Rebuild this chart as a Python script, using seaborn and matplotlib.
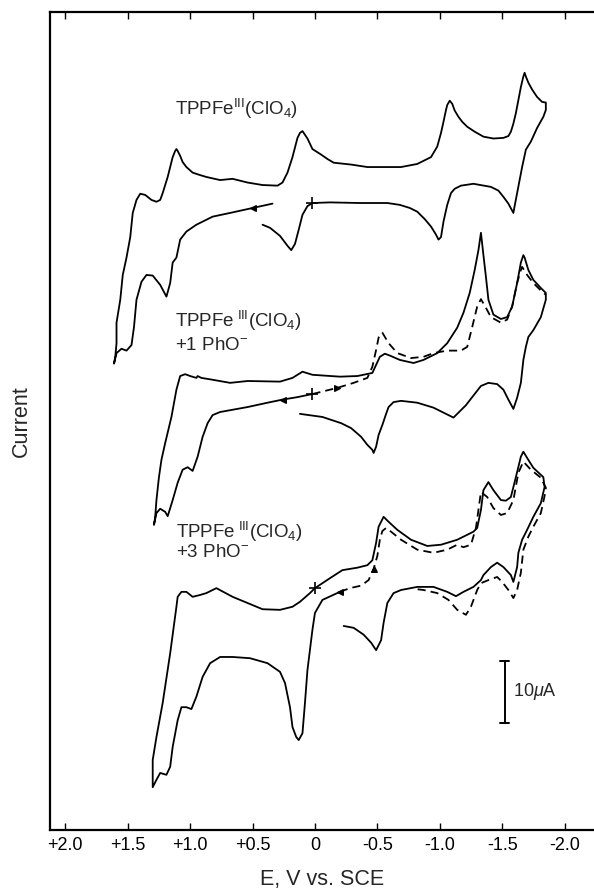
import matplotlib
matplotlib.use("Agg")
import matplotlib.pyplot as plt
import pandas as pd
import seaborn as sns

# ---------------- data (E in V vs. SCE, current in uA incl. vertical offset) ----------------
# TPPFe(III)(ClO4) - solid
top_E = [0.42, 0.36, 0.28, 0.22, 0.19, 0.16, 0.13, 0.10, 0.06, 0.02,
         -0.12, -0.36, -0.58, -0.68, -0.76, -0.82, -0.88, -0.93, -0.97, -0.99,
         -1.01, -1.03, -1.06, -1.09, -1.12, -1.17, -1.27, -1.41, -1.47, -1.51,
         -1.55, -1.59, -1.60, -1.62, -1.66, -1.69, -1.73, -1.78, -1.83, -1.85,
         -1.85, -1.82, -1.78, -1.74, -1.71, -1.69, -1.68, -1.67, -1.65, -1.63,
         -1.61, -1.59, -1.57, -1.55, -1.51, -1.43, -1.35, -1.28, -1.22, -1.18,
         -1.15, -1.12, -1.10, -1.08, -1.06, -1.05, -1.03, -1.01, -0.98, -0.93,
         -0.87, -0.82, -0.69, -0.42, -0.29, -0.15, -0.10, -0.05, 0.02, 0.06,
         0.09, 0.10, 0.12, 0.14, 0.18, 0.22, 0.26, 0.30, 0.42, 0.54,
         0.66, 0.76, 0.87, 0.92, 0.98, 1.03, 1.06, 1.08, 1.10, 1.11,
         1.12, 1.14, 1.18, 1.22, 1.24, 1.27, 1.31, 1.36, 1.40, 1.43,
         1.46, 1.48, 1.51, 1.54, 1.56, 1.59, 1.59, 1.60, 1.61, 1.59,
         1.55, 1.51, 1.47, 1.45, 1.43, 1.39, 1.35, 1.30, 1.24, 1.19,
         1.16, 1.14, 1.11, 1.08, 1.03, 0.95, 0.82, 0.68, 0.50, 0.34]
top_I = [97.6, 97.1, 95.8, 94.2, 93.5, 94.5, 96.8, 99.2, 100.6, 101.1,
         101.2, 101.1, 101.1, 100.8, 100.3, 99.7, 98.5, 97.3, 96.0, 95.2,
         95.6, 98.1, 100.8, 102.7, 103.4, 103.9, 104.2, 103.7, 103.1, 102.1,
         101.0, 99.5, 100.6, 102.7, 106.9, 109.7, 111.0, 113.2, 115.0, 116.1,
         117.3, 117.4, 118.2, 119.4, 120.5, 121.5, 122.1, 121.5, 119.8, 117.7,
         115.6, 113.9, 112.6, 111.9, 111.6, 111.5, 111.8, 112.6, 113.4, 114.2,
         115.0, 116.0, 117.1, 117.6, 116.9, 116.1, 114.2, 112.4, 110.2, 108.5,
         107.9, 107.4, 106.9, 106.9, 107.3, 107.6, 108.2, 108.9, 109.8, 111.5,
         112.4, 112.7, 112.4, 111.6, 108.5, 106.0, 104.4, 103.9, 104.0, 104.4,
         105.0, 104.8, 105.3, 105.6, 106.0, 106.9, 107.7, 108.7, 109.5, 109.8,
         109.5, 108.5, 105.3, 102.7, 101.6, 101.3, 101.6, 102.4, 102.6, 101.6,
         99.5, 95.6, 92.3, 89.5, 85.5, 81.8, 78.5, 76.3, 75.2, 76.9,
         77.6, 77.3, 78.2, 81.1, 85.5, 88.4, 89.5, 89.4, 87.9, 86.0,
         88.2, 91.5, 92.3, 95.2, 96.5, 97.6, 98.9, 99.5, 100.3, 101.0]

# + 1 PhO- : solid
mid_E = [0.12, -0.06, -0.21, -0.29, -0.37, -0.42, -0.46, -0.47, -0.49, -0.51,
         -0.54, -0.57, -0.59, -0.63, -0.69, -0.82, -0.95, -1.03, -1.11, -1.15,
         -1.21, -1.26, -1.33, -1.39, -1.46, -1.51, -1.55, -1.59, -1.62, -1.65,
         -1.67, -1.69, -1.71, -1.75, -1.81, -1.85, -1.85, -1.81, -1.75, -1.71,
         -1.68, -1.67, -1.65, -1.62, -1.58, -1.54, -1.49, -1.43, -1.39, -1.37,
         -1.35, -1.34, -1.33, -1.31, -1.28, -1.24, -1.19, -1.14, -1.06, -0.98,
         -0.87, -0.79, -0.68, -0.60, -0.56, -0.52, -0.49, -0.46, -0.34, -0.20,
         0.02, 0.10, 0.18, 0.28, 0.54, 0.68, 0.82, 0.91, 0.94, 0.95,
         1.00, 1.04, 1.08, 1.11, 1.15, 1.20, 1.23, 1.25, 1.27, 1.28,
         1.29, 1.27, 1.24, 1.20, 1.18, 1.14, 1.10, 1.06, 1.02, 0.98,
         0.94, 0.90, 0.86, 0.82, 0.76, 0.54, 0.38, 0.26, 0.14, 0.02]
mid_I = [67.1, 66.6, 65.6, 64.8, 63.4, 62.1, 61.3, 60.8, 61.8, 63.7,
         65.3, 67.1, 68.2, 69.0, 69.2, 68.9, 68.1, 67.3, 66.5, 67.3,
         68.5, 69.8, 71.6, 72.1, 71.9, 71.0, 69.4, 67.9, 69.7, 72.1,
         75.8, 77.9, 79.5, 80.6, 82.7, 85.5, 86.6, 87.4, 88.7, 90.3,
         92.3, 92.7, 91.5, 88.2, 84.4, 82.7, 82.4, 83.1, 85.5, 89.2,
         92.7, 94.5, 96.3, 93.5, 90.3, 86.6, 83.4, 81.0, 78.5, 76.9,
         75.8, 75.3, 75.8, 76.5, 76.8, 76.3, 75.0, 73.7, 73.2, 73.1,
         73.4, 73.9, 72.9, 72.3, 72.4, 72.1, 72.6, 72.9, 73.2, 72.9,
         73.2, 73.5, 73.2, 71.0, 66.6, 62.4, 59.7, 56.9, 53.2, 50.5,
         49.2, 51.1, 51.8, 51.3, 50.6, 53.2, 56.0, 58.1, 58.5, 57.9,
         60.2, 63.4, 65.6, 66.9, 67.4, 68.2, 68.9, 69.4, 69.8, 70.3]

# + 1 PhO- : dashed
mid_dash_E = [0.02, -0.12, -0.18, -0.31, -0.42, -0.46, -0.49, -0.51, -0.54, -0.59,
              -0.66, -0.77, -0.87, -0.95, -1.06, -1.17, -1.22, -1.26, -1.30, -1.33,
              -1.37, -1.41, -1.49, -1.54, -1.58, -1.62, -1.65, -1.66, -1.70, -1.75,
              -1.82, -1.85]
mid_dash_I = [70.3, 71.0, 71.3, 72.1, 72.9, 74.7, 77.4, 79.4, 80.2, 78.5,
              76.9, 76.1, 76.3, 76.9, 77.3, 77.3, 77.9, 81.1, 84.4, 85.6,
              84.2, 82.7, 81.8, 82.3, 84.4, 88.2, 90.3, 90.8, 89.5, 88.2,
              86.8, 86.3]

# + 3 PhO- : solid
bot_E = [-0.23, -0.31, -0.39, -0.45, -0.49, -0.53, -0.55, -0.58, -0.63, -0.69,
         -0.82, -0.95, -1.06, -1.13, -1.19, -1.27, -1.33, -1.35, -1.41, -1.46,
         -1.51, -1.57, -1.59, -1.62, -1.63, -1.66, -1.70, -1.75, -1.81, -1.84,
         -1.83, -1.75, -1.70, -1.67, -1.65, -1.61, -1.57, -1.53, -1.49, -1.43,
         -1.39, -1.35, -1.33, -1.30, -1.27, -1.14, -1.01, -0.90, -0.77, -0.66,
         -0.59, -0.55, -0.51, -0.49, -0.46, -0.42, -0.34, -0.22, -0.12, 0.00,
         0.04, 0.12, 0.18, 0.28, 0.42, 0.54, 0.66, 0.79, 0.87, 0.92,
         0.98, 1.03, 1.07, 1.10, 1.11, 1.16, 1.22, 1.27, 1.30, 1.30,
         1.30, 1.27, 1.24, 1.19, 1.16, 1.14, 1.10, 1.07, 1.03, 0.99,
         0.95, 0.90, 0.84, 0.76, 0.66, 0.52, 0.38, 0.28, 0.24, 0.20,
         0.18, 0.15, 0.13, 0.10, 0.08, 0.06, 0.02, 0.00, -0.06, -0.20]
bot_I = [32.9, 32.6, 31.5, 30.2, 29.0, 30.6, 33.4, 36.6, 38.2, 38.7,
         39.2, 39.2, 38.4, 37.7, 38.4, 39.2, 40.3, 41.1, 42.4, 43.1,
         42.4, 41.1, 40.0, 42.4, 44.7, 46.8, 48.4, 50.5, 52.7, 55.3,
         56.9, 58.4, 60.0, 61.0, 60.2, 56.9, 53.7, 53.1, 53.2, 54.8,
         56.1, 54.8, 51.6, 48.7, 48.1, 46.8, 46.0, 45.8, 46.8, 48.4,
         49.7, 50.5, 48.9, 46.3, 43.5, 42.7, 42.3, 41.9, 40.6, 39.0,
         38.2, 36.8, 36.0, 35.5, 35.6, 36.6, 37.6, 39.0, 38.2, 37.9,
         37.6, 38.4, 38.4, 37.6, 36.0, 28.5, 20.5, 15.0, 11.3, 8.1,
         6.9, 8.1, 9.2, 8.9, 10.2, 13.4, 17.7, 19.8, 19.8, 19.5,
         21.5, 24.7, 26.9, 27.9, 27.9, 27.7, 26.9, 25.5, 23.7, 19.8,
         16.6, 15.0, 14.5, 15.6, 20.5, 25.8, 32.3, 35.0, 37.1, 38.4]

# + 3 PhO- : dashed
bot_dash_E = [-0.20, -0.28, -0.37, -0.43, -0.47, -0.50, -0.52, -0.54, -0.57, -0.61,
              -0.69, -0.82, -0.95, -1.06, -1.14, -1.19, -1.25, -1.29, -1.31, -1.33,
              -1.38, -1.43, -1.49, -1.54, -1.59, -1.63, -1.67, -1.73, -1.81, -1.85,
              -1.85, -1.81, -1.75, -1.71, -1.67, -1.65, -1.62, -1.59, -1.55, -1.50,
              -1.46, -1.39, -1.33, -1.30, -1.25, -1.21, -1.14, -1.07, -0.98, -0.87,
              -0.79]
bot_dash_I = [38.4, 39.0, 39.4, 40.3, 42.1, 44.2, 46.8, 48.2, 48.7, 48.1,
              46.8, 45.2, 44.7, 45.2, 46.0, 45.6, 46.0, 48.7, 51.6, 54.5,
              53.7, 51.9, 50.8, 51.1, 53.2, 57.6, 59.4, 58.1, 56.8, 55.2,
              54.8, 51.1, 48.9, 47.3, 45.2, 41.5, 38.7, 37.4, 38.7, 40.0,
              40.8, 40.3, 39.8, 38.7, 36.0, 34.7, 35.5, 37.1, 38.2, 38.7,
              38.9]

# scan-start crosses and direction arrows
start_E = [0.02, 0.02, 0.00]
start_I = [101.1, 70.3, 39.0]
arrow_left_E = [0.50, 0.26, -0.20]
arrow_left_I = [100.3, 69.4, 38.4]
arrow_right_E = [-0.18]
arrow_right_I = [71.3]
arrow_up_E = [-0.47]
arrow_up_I = [42.1]

# labels
labels = [r"TPPFe$^{\mathrm{III}}$(ClO$_4$)",
          r"TPPFe$^{\ \mathrm{III}}$(ClO$_4$)",
          r"+1 PhO$^{-}$",
          r"TPPFe$^{\ \mathrm{III}}$(ClO$_4$)",
          r"+3 PhO$^{-}$"]
tick_vals = [2.0, 1.5, 1.0, 0.5, 0.0, -0.5, -1.0, -1.5, -2.0]
tick_labels = ["+2.0", "+1.5", "+1.0", "+0.5", "0", "-0.5", "-1.0", "-1.5", "-2.0"]
scale_bar_uA = 10
scale_label = r"10$\mu$A"

# ---------------- style ----------------
sns.set_theme(style="ticks")
plt.rcParams['font.family'] = ['Liberation Sans', 'DejaVu Sans']
plt.rcParams['mathtext.fontset'] = 'custom'
plt.rcParams['mathtext.rm'] = 'Liberation Sans'
plt.rcParams['mathtext.it'] = 'Liberation Sans:italic'
plt.rcParams['mathtext.sf'] = 'Liberation Sans'
plt.rcParams['mathtext.bf'] = 'Liberation Sans:bold'

fig = plt.figure(figsize=(5.94, 8.91), dpi=100)
ax = fig.add_axes([50 / 594, 61 / 891, 544 / 594, 818 / 891])

LW = 1.3


def trace(E, I, dashed=False):
    df = pd.DataFrame({"E": E, "I": I})
    kw = {"linestyle": (0, (4.5, 2.8))} if dashed else {}
    sns.lineplot(data=df, x="E", y="I", sort=False, estimator=None,
                 color="black", lw=LW, ax=ax, solid_joinstyle="round",
                 dash_joinstyle="round", **kw)


trace(top_E, top_I)
trace(mid_E, mid_I)
trace(mid_dash_E, mid_dash_I, dashed=True)
trace(bot_E, bot_I)
trace(bot_dash_E, bot_dash_I, dashed=True)

ax.scatter(start_E, start_I, marker="+", s=65, c="black", linewidths=1.2, zorder=5)
ax.scatter(arrow_left_E, arrow_left_I, marker="<", s=16, c="black", zorder=5)
ax.scatter(arrow_right_E, arrow_right_I, marker=">", s=16, c="black", zorder=5)
ax.scatter(arrow_up_E, arrow_up_I, marker="^", s=16, c="black", zorder=5)

# curve labels
fs_lab = 13.5
ax.text(1.12, 116.3, labels[0], fontsize=fs_lab, ha="left", va="center")
ax.text(1.12, 82.1, labels[1], fontsize=fs_lab, ha="left", va="center")
ax.text(1.12, 78.2, labels[2], fontsize=fs_lab, ha="left", va="center")
ax.text(1.11, 48.1, labels[3], fontsize=fs_lab, ha="left", va="center")
ax.text(1.11, 44.7, labels[4], fontsize=fs_lab, ha="left", va="center")

# scale bar
sb_E, sb_low = -1.52, 17.3
ax.plot([sb_E, sb_E], [sb_low, sb_low + scale_bar_uA], color="black", lw=1.4)
for yy in (sb_low, sb_low + scale_bar_uA):
    ax.plot([sb_E + 0.036, sb_E - 0.036], [yy, yy], color="black", lw=1.4)
ax.text(-1.585, sb_low + scale_bar_uA / 2, scale_label, fontsize=13, ha="left", va="center")

# axes
ax.set_xlim(2.123, -2.236)
ax.set_ylim(0, 131.9)
ax.set_xticks(tick_vals)
ax.set_xticklabels(tick_labels)
ax.set_yticks([])
ax.tick_params(axis="x", direction="in", top=True, bottom=True, length=5,
               width=1.0, labelsize=13, pad=5, colors="black")
for side in ("left", "bottom", "top"):
    ax.spines[side].set_linewidth(1.6)
    ax.spines[side].set_color("black")
ax.spines["right"].set_visible(False)

ax.set_xlabel("E, V vs. SCE", fontsize=15.5)
ax.xaxis.label.set_va("center")
ax.xaxis.set_label_coords(0.5, -0.0611)
ax.set_ylabel("Current", fontsize=15.5)
ax.yaxis.label.set_va("center")
ax.yaxis.set_label_coords(-0.0533, 0.5)

fig.savefig("out.png", dpi=100)
